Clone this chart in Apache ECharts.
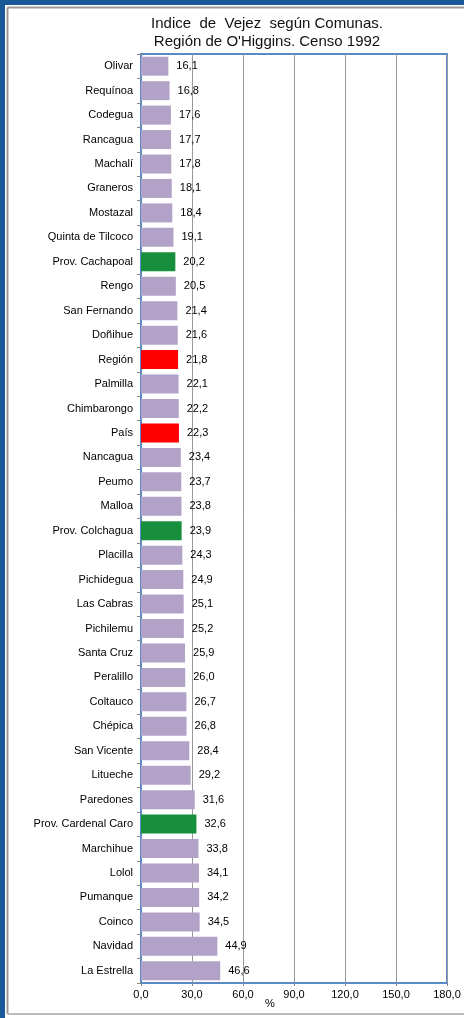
<!DOCTYPE html>
<html><head><meta charset="utf-8">
<script src="https://cdn.jsdelivr.net/npm/echarts@6/dist/echarts.min.js"></script>
<style>html,body{margin:0;padding:0;background:#fff;}#c{width:464px;height:1018px;}</style>
</head><body><div id="c"></div>
<script>
const categories = ["Olivar","Requínoa","Codegua","Rancagua","Machalí","Graneros","Mostazal","Quinta de Tilcoco","Prov. Cachapoal","Rengo","San Fernando","Doñihue","Región","Palmilla","Chimbarongo","País","Nancagua","Peumo","Malloa","Prov. Colchagua","Placilla","Pichidegua","Las Cabras","Pichilemu","Santa Cruz","Peralillo","Coltauco","Chépica","San Vicente","Litueche","Paredones","Prov. Cardenal Caro","Marchihue","Lolol","Pumanque","Coinco","Navidad","La Estrella"];
const values = [16.1,16.8,17.6,17.7,17.8,18.1,18.4,19.1,20.2,20.5,21.4,21.6,21.8,22.1,22.2,22.3,23.4,23.7,23.8,23.9,24.3,24.9,25.1,25.2,25.9,26.0,26.7,26.8,28.4,29.2,31.6,32.6,33.8,34.1,34.2,34.5,44.9,46.6];
const provinceCats = ["Prov. Cachapoal","Prov. Colchagua","Prov. Cardenal Caro"];
const referenceCats = ["Región","País"];
const xTicks = [0,30,60,90,120,150,180];

const FONT = '"Liberation Sans", Arial, sans-serif';
const chart = echarts.init(document.getElementById('c'));
const dataItems = values.map((v,i)=>{
  const c = categories[i];
  let color = '#b3a2c7';
  if (provinceCats.includes(c)) color = '#178f3c';
  if (referenceCats.includes(c)) color = '#ff0000';
  return {value:v, itemStyle:{color}};
});
chart.setOption({
  animation:false,
  title:{
    text:"Indice  de  Vejez  según Comunas.\nRegión de O'Higgins. Censo 1992",
    left:262, top:10, textAlign:'center',
    textStyle:{fontFamily:FONT, fontSize:15, fontWeight:'normal', color:'#111', lineHeight:18}
  },
  grid:{left:141, right:17, top:54, bottom:35, show:true, borderColor:'#5b8bc6', borderWidth:2, backgroundColor:'transparent'},
  xAxis:{
    type:'value', min:xTicks[0], max:xTicks[xTicks.length-1], interval:30,
    axisLine:{show:true, lineStyle:{color:'#5b8bc6', width:2}},
    axisTick:{show:true, length:3, inside:false, lineStyle:{color:'#888'}},
    splitLine:{show:true, lineStyle:{color:'#999', width:1}},
    axisLabel:{fontFamily:FONT, fontSize:11, color:'#000', margin:6,
      formatter:v=>v.toFixed(1).replace('.',',')}
  },
  yAxis:{
    type:'category', data:categories, inverse:true,
    axisLine:{show:true, lineStyle:{color:'#5b8bc6', width:2}},
    axisTick:{show:true, length:4, alignWithLabel:false, lineStyle:{color:'#888'}},
    axisLabel:{fontFamily:FONT, fontSize:11, color:'#000', margin:8}
  },
  series:[{
    type:'bar', data:dataItems, barWidth:19,
    label:{show:true, position:'right', distance:8, fontFamily:FONT, fontSize:11, color:'#000',
      formatter:p=>p.value.toFixed(1).replace('.',',')}
  }],
  graphic:[
    {type:'rect', shape:{x:0,y:0,width:464,height:5}, style:{fill:'#1b5a98'}},
    {type:'rect', shape:{x:0,y:0,width:5,height:1018}, style:{fill:'#1b5a98'}},
    {type:'line', shape:{x1:7.5,y1:7.5,x2:464,y2:7.5}, style:{stroke:'#999',lineWidth:2}},
    {type:'line', shape:{x1:7.5,y1:7.5,x2:7.5,y2:1014}, style:{stroke:'#999',lineWidth:2}},
    {type:'line', shape:{x1:7.5,y1:1014,x2:464,y2:1014}, style:{stroke:'#bbb',lineWidth:2}},
    {type:'text', x:270, y:1004, style:{text:'%', fontFamily:FONT, fontSize:11, fill:'#000', textAlign:'center', textVerticalAlign:'middle'}}
  ]
});
</script></body></html>
